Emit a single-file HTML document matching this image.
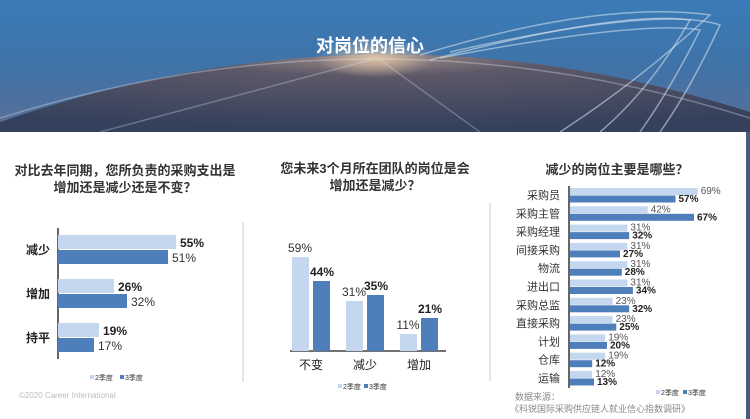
<!DOCTYPE html>
<html><head><meta charset="utf-8"><style>
html,body{margin:0;padding:0;background:#fff;}
svg{display:block;font-family:"Liberation Sans","Noto Sans CJK SC",sans-serif;}
</style></head><body>
<svg width="750" height="419" viewBox="0 0 750 419" xmlns="http://www.w3.org/2000/svg">
<defs>
<linearGradient id="sky" x1="0" y1="0" x2="0" y2="1">
<stop offset="0" stop-color="#3a7bb8"/><stop offset="0.5" stop-color="#3f73a8"/><stop offset="1" stop-color="#5b6e95"/>
</linearGradient>
<radialGradient id="city" cx="0.5" cy="0.05" r="0.9">
<stop offset="0" stop-color="#9a8a86"/><stop offset="0.25" stop-color="#5d5868"/><stop offset="1" stop-color="#34405c"/>
</radialGradient>
<radialGradient id="glow" cx="0.5" cy="0.5" r="0.5">
<stop offset="0" stop-color="#f2d2b0" stop-opacity="0.8"/><stop offset="1" stop-color="#f2d2b0" stop-opacity="0"/>
</radialGradient>
</defs>
<rect x="0" y="0" width="750" height="132" fill="url(#sky)"/>
<path d="M0 122 Q375 -8 750 112 L750 132 L0 132 Z" fill="url(#city)"/>
<ellipse cx="375" cy="58" rx="60" ry="20" fill="url(#glow)"/>
<g fill="none" stroke="#d8e6ef" stroke-opacity="0.55" stroke-width="1.5">
<path d="M420 55 Q600 0 710 15 Q640 80 560 132"/>
<path d="M430 60 Q620 10 690 20 Q650 90 600 132"/>
<path d="M440 58 Q640 20 700 30 Q670 90 640 132"/>
<path d="M450 52 Q660 5 720 25 Q690 90 660 132"/>
<path d="M0 118 Q375 0 750 118" stroke-opacity="0.35"/>
<path d="M100 132 L370 60" stroke-opacity="0.3"/>
<path d="M380 60 L480 132" stroke-opacity="0.3"/>
</g>
<text x="370" y="52" font-size="18" font-weight="bold" fill="#fff" text-anchor="middle">对岗位的信心</text>
<rect x="746" y="132" width="4" height="287" fill="#4a5a78"/>

<g font-size="13" font-weight="bold" fill="#333" text-anchor="middle">
<text x="125" y="175">对比去年同期，您所负责的采购支出是</text>
<text x="125" y="192">增加还是减少还是不变？</text>
<text x="375" y="173">您未来3个月所在团队的岗位是会</text>
<text x="375" y="190">增加还是减少？</text>
<text x="617" y="174">减少的岗位主要是哪些？</text>
</g>
<line x1="243" y1="222" x2="243" y2="382" stroke="#ccc"/>
<line x1="490" y1="203" x2="490" y2="381" stroke="#ccc"/>
<line x1="58" y1="228" x2="58" y2="359" stroke="#333" stroke-width="1.5"/>
<g>
<rect x="58" y="235" width="118" height="14" fill="#c5d7ef"/>
<rect x="58" y="250" width="110" height="14" fill="#4f7fba"/>
<rect x="58" y="279" width="56" height="14" fill="#c5d7ef"/>
<rect x="58" y="294" width="69" height="14" fill="#4f7fba"/>
<rect x="58" y="323" width="41" height="14" fill="#c5d7ef"/>
<rect x="58" y="338" width="36" height="14" fill="#4f7fba"/>
</g>
<g font-size="12" fill="#222" font-weight="bold">
<text x="26" y="254">减少</text><text x="26" y="298">增加</text><text x="26" y="342">持平</text>
<text x="180" y="247">55%</text><text x="118" y="291">26%</text><text x="103" y="335">19%</text>
</g>
<g font-size="12" fill="#333">
<text x="172" y="262">51%</text><text x="131" y="306">32%</text><text x="98" y="350">17%</text>
</g>
<g font-size="7" fill="#333">
<rect x="90" y="375" width="4" height="4" fill="#c5d7ef"/><text x="95" y="380">2季度</text>
<rect x="120" y="375" width="4" height="4" fill="#4f7fba"/><text x="125" y="380">3季度</text>
</g>
<text x="19" y="398" font-size="8" fill="#bbb">©2020 Career International</text>

<line x1="290" y1="351" x2="446" y2="351" stroke="#444" stroke-width="1.5"/>
<rect x="292" y="257" width="17" height="94" fill="#c5d7ef"/>
<rect x="313" y="281" width="17" height="70" fill="#4f7fba"/>
<rect x="346" y="301" width="17" height="50" fill="#c5d7ef"/>
<rect x="367" y="295" width="17" height="56" fill="#4f7fba"/>
<rect x="400" y="334" width="17" height="17" fill="#c5d7ef"/>
<rect x="421" y="318" width="17" height="33" fill="#4f7fba"/>
<g font-size="12" text-anchor="middle">
<text x="300" y="252" fill="#333">59%</text>
<text x="322" y="276" fill="#222" font-weight="bold">44%</text>
<text x="354" y="296" fill="#333">31%</text>
<text x="376" y="290" fill="#222" font-weight="bold">35%</text>
<text x="408" y="329" fill="#333">11%</text>
<text x="430" y="313" fill="#222" font-weight="bold">21%</text>
<text x="311" y="369" fill="#222">不变</text>
<text x="365" y="369" fill="#222">减少</text>
<text x="419" y="369" fill="#222">增加</text>
</g>
<g font-size="7" fill="#333">
<rect x="338" y="384" width="4" height="4" fill="#c5d7ef"/><text x="343" y="389">2季度</text>
<rect x="364" y="384" width="4" height="4" fill="#4f7fba"/><text x="369" y="389">3季度</text>
</g>

<line x1="569" y1="186" x2="569" y2="388" stroke="#333" stroke-width="1.5"/>
<g fill="#c5d7ef">
<rect x="570" y="188" width="127.7" height="7"/>
<rect x="570" y="206.3" width="77.7" height="7"/>
<rect x="570" y="224.6" width="57.4" height="7"/>
<rect x="570" y="242.9" width="57.4" height="7"/>
<rect x="570" y="261.2" width="57.4" height="7"/>
<rect x="570" y="279.5" width="57.4" height="7"/>
<rect x="570" y="297.8" width="42.6" height="7"/>
<rect x="570" y="316.1" width="42.6" height="7"/>
<rect x="570" y="334.4" width="35.2" height="7"/>
<rect x="570" y="352.7" width="35.2" height="7"/>
<rect x="570" y="371" width="22.2" height="7"/>
</g>
<g fill="#4f7fba">
<rect x="570" y="195.5" width="105.5" height="7"/>
<rect x="570" y="213.8" width="124" height="7"/>
<rect x="570" y="232.1" width="59.2" height="7"/>
<rect x="570" y="250.4" width="50" height="7"/>
<rect x="570" y="268.7" width="51.8" height="7"/>
<rect x="570" y="287" width="62.9" height="7"/>
<rect x="570" y="305.3" width="59.2" height="7"/>
<rect x="570" y="323.6" width="46.3" height="7"/>
<rect x="570" y="341.9" width="37" height="7"/>
<rect x="570" y="360.2" width="22.2" height="7"/>
<rect x="570" y="378.5" width="24" height="7"/>
</g>
<g font-size="11" fill="#333" text-anchor="end">
<text x="560" y="199">采购员</text>
<text x="560" y="217.3">采购主管</text>
<text x="560" y="235.6">采购经理</text>
<text x="560" y="253.9">间接采购</text>
<text x="560" y="272.2">物流</text>
<text x="560" y="290.5">进出口</text>
<text x="560" y="308.8">采购总监</text>
<text x="560" y="327.1">直接采购</text>
<text x="560" y="345.4">计划</text>
<text x="560" y="363.7">仓库</text>
<text x="560" y="382">运输</text>
</g>
<g font-size="10" fill="#555">
<text x="700.7" y="194">69%</text>
<text x="650.7" y="212.3">42%</text>
<text x="630.4" y="230.6">31%</text>
<text x="630.4" y="248.9">31%</text>
<text x="630.4" y="267.2">31%</text>
<text x="630.4" y="285.5">31%</text>
<text x="615.6" y="303.8">23%</text>
<text x="615.6" y="322.1">23%</text>
<text x="608.2" y="340.4">19%</text>
<text x="608.2" y="358.7">19%</text>
<text x="595.2" y="377">12%</text>
</g>
<g font-size="10" fill="#222" font-weight="bold">
<text x="678.5" y="202">57%</text>
<text x="697" y="220.3">67%</text>
<text x="632.2" y="238.6">32%</text>
<text x="623" y="256.9">27%</text>
<text x="624.8" y="275.2">28%</text>
<text x="635.9" y="293.5">34%</text>
<text x="632.2" y="311.8">32%</text>
<text x="619.3" y="330.1">25%</text>
<text x="610" y="348.4">20%</text>
<text x="595.2" y="366.7">12%</text>
<text x="597" y="385">13%</text>
</g>
<g font-size="7" fill="#333">
<rect x="656" y="390" width="4" height="4" fill="#c5d7ef"/><text x="661" y="395">2季度</text>
<rect x="683" y="390" width="4" height="4" fill="#4f7fba"/><text x="688" y="395">3季度</text>
</g>
<text x="515" y="400" font-size="9" fill="#888">数据来源：</text>
<text x="510" y="412" font-size="9" fill="#888">《科锐国际采购供应链人就业信心指数调研》</text>
</svg>
</body></html>
